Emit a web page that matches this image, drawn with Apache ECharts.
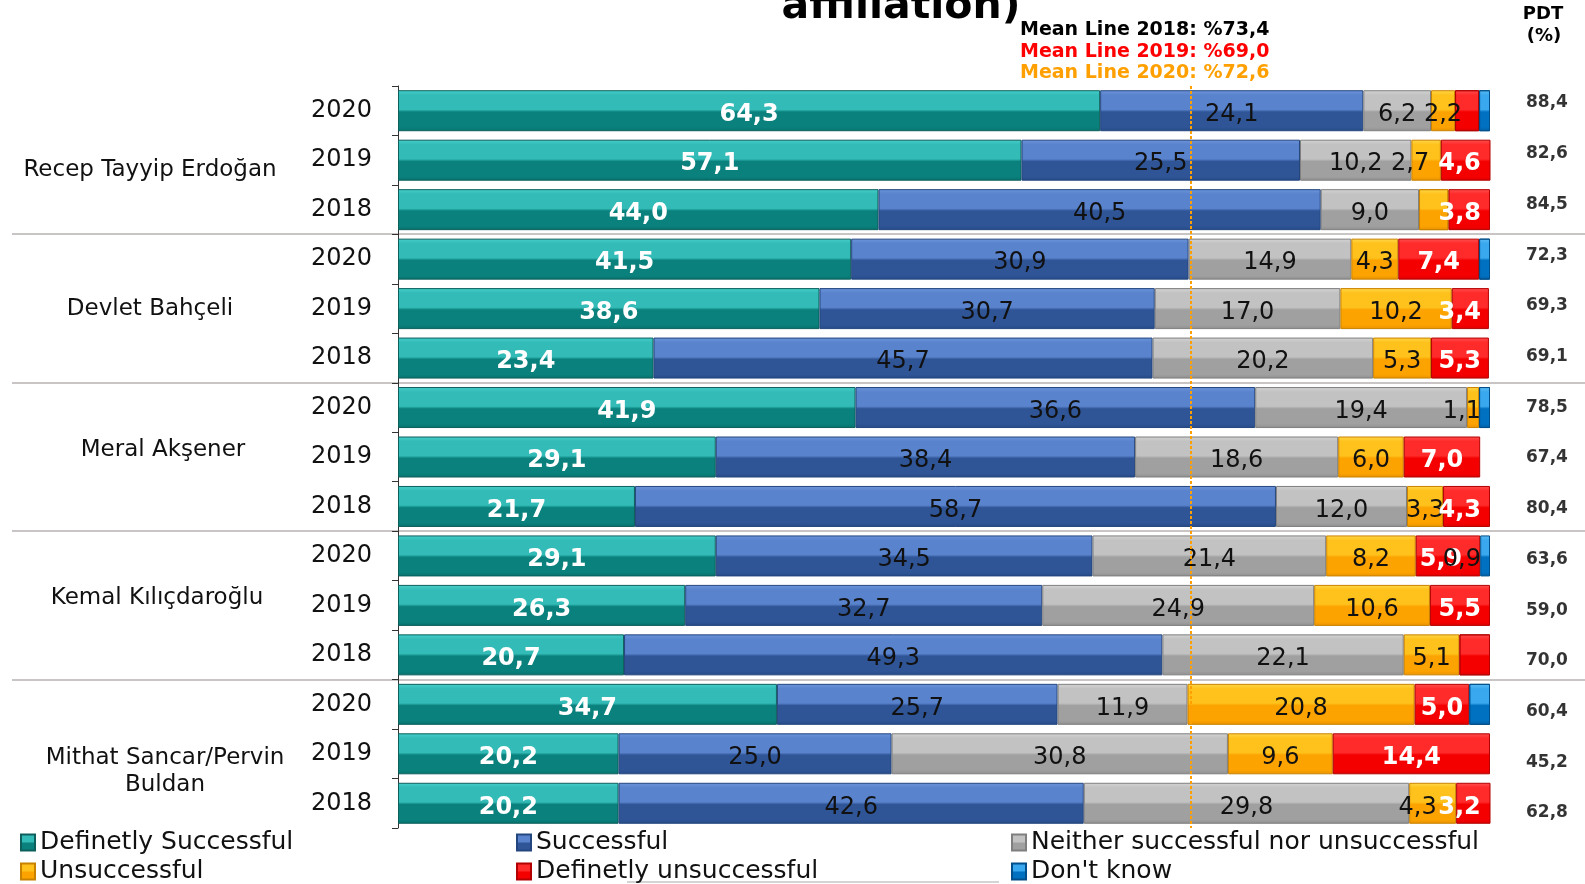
<!DOCTYPE html>
<html>
<head>
<meta charset="utf-8">
<script src="https://cdn.jsdelivr.net/npm/echarts@6/dist/echarts.min.js"></script>
<style>
  html, body { margin: 0; padding: 0; background: #ffffff; }
  #chart { width: 1585px; height: 884px; }
</style>
</head>
<body>
<div id="chart"></div>
<script>
// ---- data ----
const candidates = ['Recep Tayyip Erdoğan', 'Devlet Bahçeli', 'Meral Akşener', 'Kemal Kılıçdaroğlu', 'Mithat Sancar/Pervin\nBuldan'];
const years = ['2020', '2019', '2018'];

// one value per row, rows ordered candidate by candidate, 2020 -> 2018
const definitelySuccessful   = [64.3, 57.1, 44.0, 41.5, 38.6, 23.4, 41.9, 29.1, 21.7, 29.1, 26.3, 20.7, 34.7, 20.2, 20.2];
const successful             = [24.1, 25.5, 40.5, 30.9, 30.7, 45.7, 36.6, 38.4, 58.7, 34.5, 32.7, 49.3, 25.7, 25.0, 42.6];
const neither                = [6.2, 10.2, 9.0, 14.9, 17.0, 20.2, 19.4, 18.6, 12.0, 21.4, 24.9, 22.1, 11.9, 30.8, 29.8];
const unsuccessful           = [2.2, 2.7, 2.7, 4.3, 10.2, 5.3, 1.1, 6.0, 3.3, 8.2, 10.6, 5.1, 20.8, 9.6, 4.3];
const definitelyUnsuccessful = [2.2, 4.6, 3.8, 7.4, 3.4, 5.3, 0, 7.0, 4.3, 5.9, 5.5, 2.8, 5.0, 14.4, 3.2];
const dontKnow               = [1.0, 0, 0, 1.0, 0, 0, 1.0, 0, 0, 0.9, 0, 0, 1.9, 0, 0];
const pdtValues              = [88.4, 82.6, 84.5, 72.3, 69.3, 69.1, 78.5, 67.4, 80.4, 63.6, 59.0, 70.0, 60.4, 45.2, 62.8];

const seriesNames = ['Definetly Successful', 'Successful', 'Neither successful nor unsuccessful',
                     'Unsuccessful', 'Definetly unsuccessful', "Don't know"];

const meanYears  = ['2018', '2019', '2020'];
const meanValues = [73.4, 69.0, 72.6];

// ---- presentation ----
const W = 1585, H = 884;
const FONT = "'DejaVu Sans', Verdana, sans-serif";
const GRID = { left: 398, right: 95, top: 86, bottom: 56 };
const LABEL_SIZE = 24;
const LABEL_DY = 4;
const fmt = v => v.toFixed(1).replace('.', ',');

// row ids: unique per candidate and year
const rows = [];
candidates.forEach(c => years.forEach(y => rows.push(c + '|' + y)));

function bevel(hi, up, lo, dk) {
  return new echarts.graphic.LinearGradient(0, 0, 0, 1, [
    { offset: 0, color: hi }, { offset: 0.12, color: up }, { offset: 0.47, color: up },
    { offset: 0.53, color: lo }, { offset: 0.9, color: lo }, { offset: 1, color: dk }
  ]);
}
const fills = [
  bevel('#45cfcb', '#33bbb7', '#0a817c', '#06716d'),
  bevel('#6b95db', '#5a83cd', '#2f5597', '#274a86'),
  bevel('#d4d4d4', '#c2c2c2', '#a0a0a0', '#8f8f8f'),
  bevel('#ffd84a', '#ffc21c', '#fca300', '#e89200'),
  bevel('#ff5050', '#ff2a2a', '#f50000', '#dc0000'),
  bevel('#5cbef5', '#3aa8ee', '#0070c0', '#005fa6')
];
const borders = ['#0d5f5c', '#24467e', '#7f7f7f', '#c98200', '#b30000', '#004f8a'];
const labelColors = ['#ffffff', '#111111', '#111111', '#111111', '#ffffff', '#111111'];
const labelWeights = ['bold', 'normal', 'normal', 'normal', 'bold', 'normal'];

// segments whose value is not printed
const silentLabels = { 3: [2], 4: [0, 11], 5: [0, 3, 6, 12] };
// hand-placed labels that step aside for their neighbour
const labelNudge = { '3-1': -16, '3-14': -15, '4-9': -7 };
// labels are kept left of this x
const labelLimit = W - GRID.right - 9;

// candidate name placement tweaks [dx, dy]
const nameShift = [[-7, 10], [-7, 0], [6, -7], [0, -7], [8, 18]];

const values = [definitelySuccessful, successful, neither, unsuccessful, definitelyUnsuccessful, dontKnow];

function buildData(si, offsets) {
  return values[si].map((v, ri) => {
    const hidden = v === 0 || (silentLabels[si] || []).includes(ri);
    const item = { value: v };
    if (hidden) item.label = { show: false };
    else if (offsets) item.label = { offset: offsets[ri] };
    if (v === 0) item.itemStyle = { borderWidth: 0 };
    return item;
  });
}

const barSeries = values.map((arr, si) => ({
  type: 'bar',
  name: seriesNames[si],
  stack: 'total',
  barWidth: 41,
  xAxisIndex: 0,
  yAxisIndex: 0,
  itemStyle: { color: fills[si], borderColor: borders[si], borderWidth: 1 },
  label: {
    show: true,
    position: 'inside',
    formatter: p => fmt(p.value),
    color: labelColors[si],
    fontWeight: labelWeights[si],
    fontSize: LABEL_SIZE,
    fontFamily: FONT,
    offset: [0, LABEL_DY]
  },
  emphasis: { disabled: true },
  data: buildData(si, null)
}));

// 2020 mean as a dotted reference line
barSeries[5].markLine = {
  silent: true,
  symbol: 'none',
  label: { show: false },
  lineStyle: { color: '#ff9f00', type: [3, 2], width: 2 },
  data: [{ xAxis: meanValues[2] }]
};

const pdtSeries = {
  type: 'scatter',
  xAxisIndex: 1,
  yAxisIndex: 2,
  symbolSize: 0.1,
  silent: true,
  label: {
    show: true,
    position: 'left',
    distance: 0,
    formatter: p => fmt(p.value[2]),
    color: '#000',
    fontWeight: 'bold',
    fontSize: 17,
    fontFamily: FONT
  },
  data: pdtValues.map((v, i) => [1, rows[i], v])
};

// rich styles for candidate names: one text style and one spacer per name
const nameRich = {};
nameShift.forEach(([dx, dy], i) => {
  nameRich['n' + i] = {
    fontSize: 23, fontFamily: FONT, color: '#111', lineHeight: 27,
    padding: [0, Math.max(0, -2 * dx), 0, Math.max(0, 2 * dx)]
  };
  nameRich['s' + i] = { fontSize: 1, lineHeight: Math.max(1, 2 * Math.abs(dy)), color: 'transparent' };
});
function nameFormatter(value, index) {
  const lines = value.split('\n').map(l => '{n' + index + '|' + l + '}');
  const dy = nameShift[index][1];
  const spacer = '{s' + index + '| }';
  if (dy > 0) lines.unshift(spacer);
  else if (dy < 0) lines.push(spacer);
  return lines.join('\n');
}

const meanColors = ['#000000', '#ff0000', '#ffa000'];
const meanCenters = [30, 52, 73];

const graphics = [
  { type: 'text', x: 901, y: 7, silent: true,
    style: { text: 'affiliation)', font: 'bold 41px ' + FONT, fill: '#000', align: 'center', verticalAlign: 'middle' } },
  { type: 'text', x: 1543, y: 14, silent: true,
    style: { text: 'PDT', font: 'bold 18px ' + FONT, fill: '#000', align: 'center', verticalAlign: 'middle' } },
  { type: 'text', x: 1544, y: 36, silent: true,
    style: { text: '(%)', font: 'bold 18px ' + FONT, fill: '#000', align: 'center', verticalAlign: 'middle' } },
  { type: 'line', silent: true, shape: { x1: 627, y1: 882, x2: 999, y2: 882 },
    style: { stroke: '#d4d4d4', lineWidth: 2 } }
];
meanYears.forEach((y, i) => {
  graphics.push({
    type: 'text', x: 1020, y: meanCenters[i], silent: true,
    style: { text: 'Mean Line ' + y + ': %' + fmt(meanValues[i]), font: 'bold 19px ' + FONT,
             fill: meanColors[i], align: 'left', verticalAlign: 'middle' }
  });
});

const legendBase = {
  orient: 'vertical',
  top: 830,
  height: 80,
  padding: 0,
  itemWidth: 14,
  itemHeight: 16,
  itemGap: 4,
  icon: 'rect',
  selectedMode: false,
  textStyle: { fontSize: 25, lineHeight: 25, fontFamily: FONT, color: '#111' }
};

const option = {
  animation: false,
  backgroundColor: '#ffffff',
  grid: [
    { left: GRID.left, right: GRID.right, top: GRID.top, bottom: GRID.bottom, outerBoundsMode: 'none', containLabel: false },
    { left: W - GRID.right, right: 17, top: 77.6, bottom: 45.7, outerBoundsMode: 'none', containLabel: false }
  ],
  xAxis: [
    { gridIndex: 0, type: 'value', min: 0, max: 100, show: false },
    { gridIndex: 1, type: 'value', min: 0, max: 1, show: false }
  ],
  yAxis: [
    {
      gridIndex: 0, type: 'category', inverse: true, data: rows, position: 'left',
      axisLine: { show: true, lineStyle: { color: '#333', width: 1 } },
      axisTick: { show: true, length: 6, lineStyle: { color: '#333' } },
      axisLabel: { formatter: v => v.split('|')[1], fontSize: 24, fontFamily: FONT, color: '#111', margin: 26 },
      splitLine: { show: false }
    },
    {
      gridIndex: 0, type: 'category', inverse: true, position: 'left', data: candidates,
      axisLine: { show: false }, axisTick: { show: false },
      axisLabel: {
        formatter: nameFormatter, rich: nameRich,
        fontSize: 23, fontFamily: FONT, color: '#111', margin: 241, align: 'center', interval: 0
      },
      splitLine: { show: false }
    },
    { gridIndex: 1, type: 'category', inverse: true, data: rows, show: false }
  ],
  legend: [
    Object.assign({}, legendBase, { left: 20, data: [seriesNames[0], seriesNames[3]] }),
    Object.assign({}, legendBase, { left: 516, data: [seriesNames[1], seriesNames[4]] }),
    Object.assign({}, legendBase, { left: 1011, data: [seriesNames[2], seriesNames[5]] })
  ],
  graphic: graphics,
  series: barSeries.concat([pdtSeries])
};

const chart = echarts.init(document.getElementById('chart'), null, { renderer: 'canvas', width: W, height: H });
chart.setOption(option);

// keep segment values inside the plot: labels that would run past the right edge slide left
const measure = document.createElement('canvas').getContext('2d');
const labelOffsets = values.map((arr, si) => {
  measure.font = labelWeights[si] + ' ' + LABEL_SIZE + 'px ' + FONT;
  return arr.map((v, ri) => {
    let start = 0;
    for (let k = 0; k < si; k++) start += values[k][ri];
    const cx = chart.convertToPixel({ xAxisIndex: 0 }, start + v / 2);
    let dx = labelNudge[si + '-' + ri] || 0;
    const right = cx + dx + measure.measureText(fmt(v)).width / 2;
    if (right > labelLimit) dx -= right - labelLimit;
    return [dx, LABEL_DY];
  });
});

// group separators, placed between the last row of one candidate and the first of the next
const separators = [];
for (let g = 1; g < candidates.length; g++) {
  const a = chart.convertToPixel({ yAxisIndex: 0 }, rows[g * 3 - 1]);
  const b = chart.convertToPixel({ yAxisIndex: 0 }, rows[g * 3]);
  const y = Math.round((a + b) / 2);
  separators.push({ type: 'line', silent: true, z: -1,
    shape: { x1: 12, y1: y, x2: W, y2: y }, style: { stroke: '#c9c5c5', lineWidth: 2 } });
}

chart.setOption({
  graphic: graphics.concat(separators),
  series: values.map((arr, si) => ({ data: buildData(si, labelOffsets[si]) }))
});
</script>
</body>
</html>
